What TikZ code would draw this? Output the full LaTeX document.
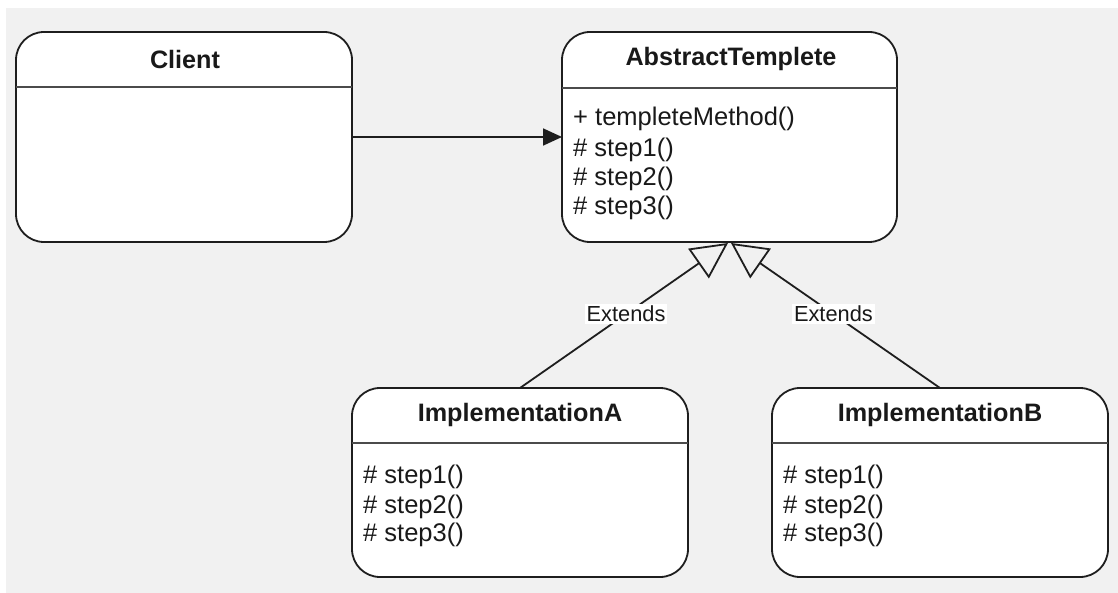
\documentclass[tikz,border=0pt]{standalone}
\usepackage{fontspec}
\setmainfont{Liberation Sans}
\usetikzlibrary{arrows.meta,calc}
\definecolor{bggray}{HTML}{F1F1F1}
\definecolor{linec}{HTML}{1E1E1E}
\tikzset{
  classbox/.style={draw=linec, line width=1.8pt, fill=white, rounded corners=28pt,
    rectangle, minimum width=336pt, inner sep=0pt, outer sep=0pt},
  titletext/.style={font=\fontsize{25.2}{28}\selectfont\bfseries, inner sep=0pt, text=black!90},
  bodytext/.style={font=\fontsize{25.5}{28}\selectfont, inner sep=0pt, anchor=west, text=black!90},
  divider/.style={draw=linec!80, line width=2pt},
  assoc/.style={draw=linec, line width=1.8pt, -{Triangle[length=19pt,width=17pt]}},
  extends/.style={draw=linec, line width=1.8pt, -{Triangle[open,length=36pt,width=36pt,line width=1.8pt]}},
  extlabel/.style={fill=white, font=\fontsize{21.8}{24}\selectfont, inner sep=2pt, text=black!90}
}
\begin{document}
\begin{tikzpicture}[x=1pt,y=-1pt]
\useasboundingbox (0,0) rectangle (1118,593);
\fill[white] (0,0) rectangle (1118,593);
\fill[bggray] (6,8) rectangle (1118,593);

% boxes
\node[classbox, minimum height=210pt] (client) at (184,137) {};
\node[classbox, minimum height=210pt, minimum width=335pt] (abstract) at (729.5,137) {};
\node[classbox, minimum height=189pt] (implA) at (520,482.5) {};
\node[classbox, minimum height=189pt] (implB) at (940,482.5) {};

% dividers
\draw[divider] ($(client.north west)+(0,55)$) -- ($(client.north east)+(0,55)$);
\draw[divider] ($(abstract.north west)+(0,56)$) -- ($(abstract.north east)+(0,56)$);
\draw[divider] ($(implA.north west)+(0,55)$) -- ($(implA.north east)+(0,55)$);
\draw[divider] ($(implB.north west)+(0,55)$) -- ($(implB.north east)+(0,55)$);

% titles
\node[titletext] (clientT) at (185,59) {Client};
\node[titletext] (abstractT) at (731,59) {AbstractTemplete};
\node[titletext] (implAT) at (520,415) {ImplementationA};
\node[titletext] (implBT) at (940,415) {ImplementationB};

% abstract members
\node[bodytext] (am0) at (573,119) {+ templeteMethod()};
\node[bodytext] (am1) at (573,150) {\# step1()};
\node[bodytext] (am2) at (573,179) {\# step2()};
\node[bodytext] (am3) at (573,208) {\# step3()};

% implA members
\node[bodytext] (a1) at (363,477) {\# step1()};
\node[bodytext] (a2) at (363,507) {\# step2()};
\node[bodytext] (a3) at (363,535) {\# step3()};

% implB members
\node[bodytext] (b1) at (783,477) {\# step1()};
\node[bodytext] (b2) at (783,507) {\# step2()};
\node[bodytext] (b3) at (783,535) {\# step3()};

% connectors
\draw[assoc] (client) -- (abstract);
\coordinate (tipA) at ($(abstract.south)+(-1.5,1)$);
\coordinate (tipB) at ($(abstract.south)+(1.5,1)$);
\draw[extends] (implA.north) -- node[extlabel, pos=0.51] (extA) {Extends} (tipA);
\draw[extends] (implB.north) -- node[extlabel, pos=0.51] (extB) {Extends} (tipB);
\end{tikzpicture}
\end{document}
